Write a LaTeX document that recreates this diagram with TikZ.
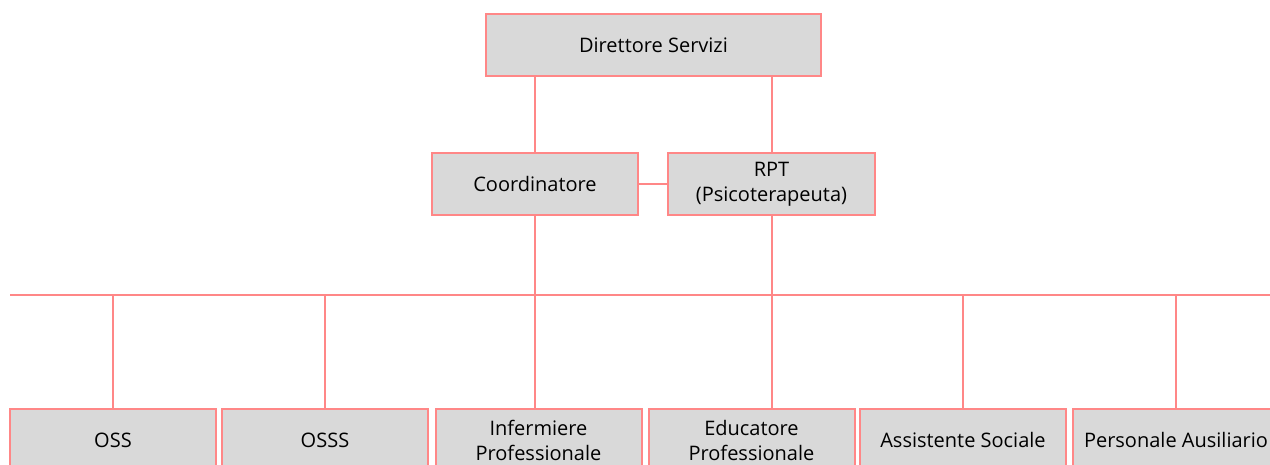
\documentclass[tikz,border=0pt]{standalone}
\usepackage{fontspec}
\setmainfont{Open Sans}
\definecolor{lnred}{RGB}{255,135,135}
\definecolor{boxgray}{RGB}{217,217,217}
\begin{document}
\begin{tikzpicture}[x=1pt,y=-1pt,
  orgbox/.style={draw=lnred,fill=boxgray,line width=2pt,minimum width=206pt,minimum height=62pt,inner sep=0pt,align=center,font=\fontsize{20}{25}\selectfont,text=black},
  link/.style={draw=lnred,line width=2pt}]
\useasboundingbox (0,0) rectangle (1270,465);
\clip (0,0) rectangle (1270,465);
\node[orgbox,minimum width=335pt] (dir) at (653.5,45.5) {Direttore Servizi};
\node[orgbox] (coord) at (535,184) {Coordinatore};
\node[orgbox,minimum width=207pt] (rpt) at (771.5,184) {RPT\\(Psicoterapeuta)};
\coordinate (busL) at (10,295);
\coordinate (busR) at (1270,295);
\node[orgbox] (oss) at (113,440) {OSS};
\node[orgbox] (osss) at (325,440) {OSSS};
\node[orgbox] (inf) at (538.5,440) {Infermiere\\Professionale};
\node[orgbox] (edu) at (751.5,440) {Educatore\\Professionale};
\node[orgbox] (ass) at (963,440) {Assistente Sociale};
\node[orgbox] (pers) at (1176,440) {Personale Ausiliario};
\draw[link] (coord.north |- dir.south) -- (coord.north);
\draw[link] (rpt.north |- dir.south) -- (rpt.north);
\draw[link] (coord.east) -- (rpt.west);
\draw[link] (busL) -- (busR);
\draw[link] (coord.south) -- (coord.south |- inf.north);
\draw[link] (rpt.south) -- (rpt.south |- edu.north);
\draw[link] (oss.north |- busL) -- (oss.north);
\draw[link] (osss.north |- busL) -- (osss.north);
\draw[link] (ass.north |- busL) -- (ass.north);
\draw[link] (pers.north |- busL) -- (pers.north);
\end{tikzpicture}
\end{document}
